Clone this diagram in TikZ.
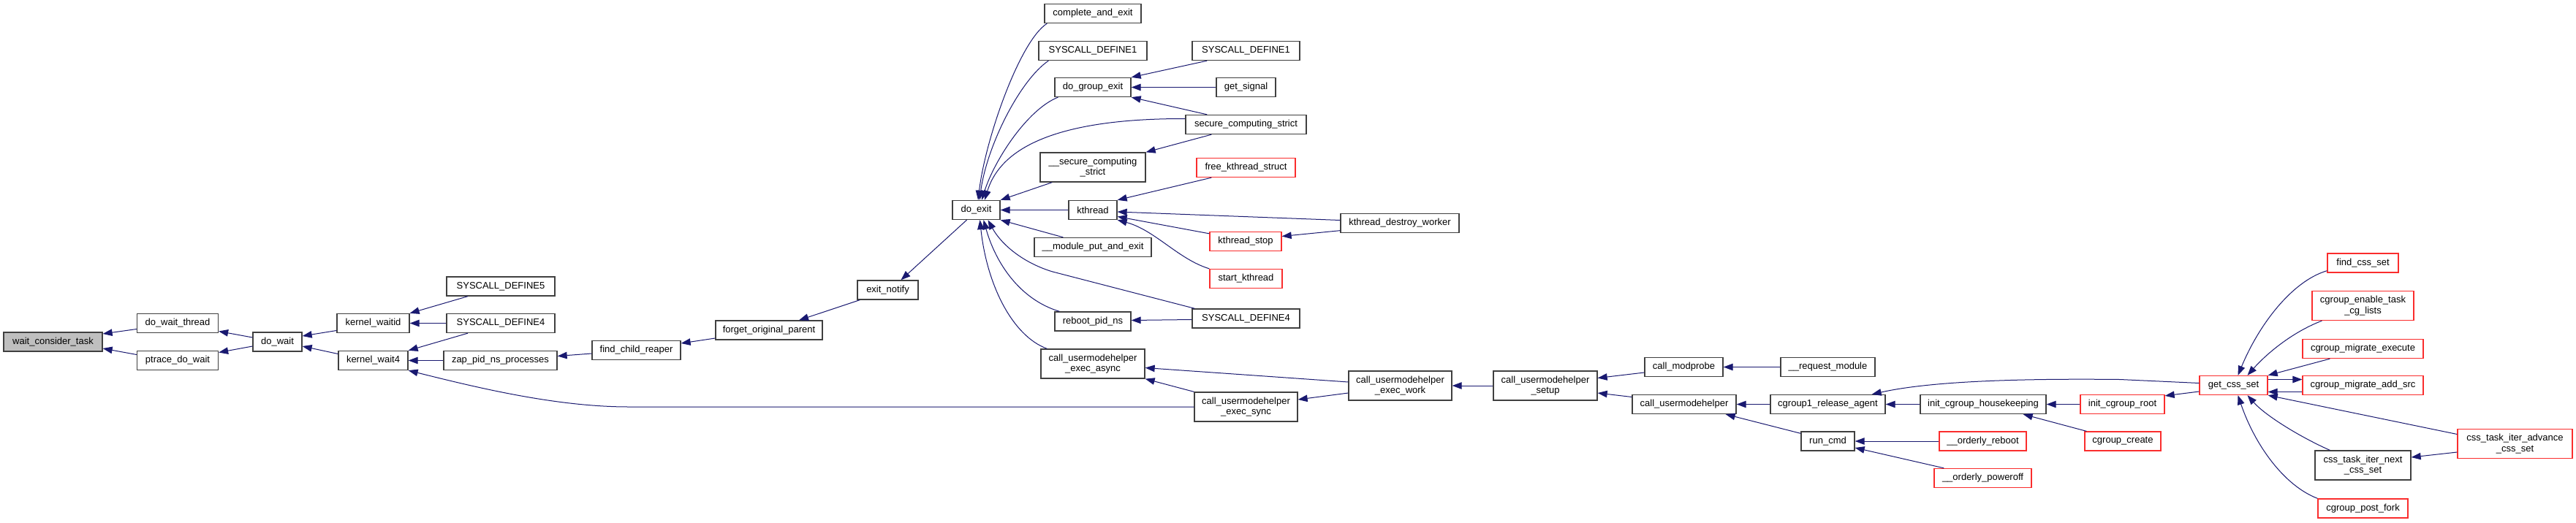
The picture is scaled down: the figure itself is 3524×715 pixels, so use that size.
\documentclass[tikz,border=0pt]{standalone}
\usepackage{fontspec}
\setmainfont{Liberation Sans}
\usetikzlibrary{arrows.meta}
\definecolor{edgeblue}{RGB}{25,25,112}
\definecolor{nodeblack}{RGB}{64,64,64}
\definecolor{nodered}{RGB}{250,45,45}
\definecolor{grayfill}{RGB}{191,191,191}
\begin{document}
\begin{tikzpicture}[x=1pt,y=-1pt, >={Triangle[length=13pt,width=9.5pt]},
 box/.style={draw=nodeblack, line width=1.3pt, fill=white, inner sep=0pt, align=center,
   font=\fontsize{13}{14.7}\selectfont, minimum height=26pt},
 redbox/.style={box, draw=nodered},
 tall/.style={minimum height=40pt},
 edge/.style={draw=edgeblue, line width=1pt, <-}]
\fill[white] (0,0) rectangle (3524,715);
\useasboundingbox (0,0) rectangle (3524,715);
% nodes
\node[box, fill=grayfill, minimum width=135pt] (wct) at (72.5,468) {wait\_consider\_task};
\node[box, minimum width=111pt] (dwt) at (243,442.5) {do\_wait\_thread};
\node[box, minimum width=111pt] (ptr) at (243,493.5) {ptrace\_do\_wait};
\node[box, minimum width=67pt] (dw) at (379.5,468) {do\_wait};
\node[box, minimum width=99pt] (kwid) at (510.5,442.5) {kernel\_waitid};
\node[box, minimum width=95pt] (kw4) at (510.5,493.5) {kernel\_wait4};
\node[box, minimum width=148pt] (sd5) at (685,392) {SYSCALL\_DEFINE5};
\node[box, minimum width=148pt] (sd4l) at (685,442.5) {SYSCALL\_DEFINE4};
\node[box, minimum width=155pt] (zap) at (684.5,493.5) {zap\_pid\_ns\_processes};
\node[box, minimum width=121pt] (fcr) at (870.5,479.5) {find\_child\_reaper};
\node[box, minimum width=146pt] (fop) at (1052,452) {forget\_original\_parent};
\node[box, minimum width=83pt] (exn) at (1214.5,397) {exit\_notify};
\node[box, minimum width=65pt] (dex) at (1335.5,287.5) {do\_exit};
\node[box, minimum width=132pt] (cae) at (1495,18.5) {complete\_and\_exit};
\node[box, minimum width=148pt] (sd1l) at (1495,69.5) {SYSCALL\_DEFINE1};
\node[box, minimum width=104pt] (dge) at (1495,119.5) {do\_group\_exit};
\node[box, tall, minimum width=144pt] (uscs) at (1495,229) {\_\_secure\_computing\\\_strict};
\node[box, minimum width=66pt] (kth) at (1495,287.5) {kthread};
\node[box, minimum width=160pt] (mpe) at (1495,338.5) {\_\_module\_put\_and\_exit};
\node[box, minimum width=104pt] (rpn) at (1495,440) {reboot\_pid\_ns};
\node[box, tall, minimum width=142pt] (uea) at (1495,498) {call\_usermodehelper\\\_exec\_async};
\node[box, minimum width=147pt] (sd1r) at (1704.5,69.5) {SYSCALL\_DEFINE1};
\node[box, minimum width=81pt] (gsig) at (1704.5,119.5) {get\_signal};
\node[box, minimum width=165pt] (scs) at (1704.5,170.5) {secure\_computing\_strict};
\node[redbox, minimum width=135pt] (fks) at (1704.5,229.5) {free\_kthread\_struct};
\node[redbox, minimum width=98pt] (kst) at (1704,330.5) {kthread\_stop};
\node[redbox, minimum width=99pt] (stk) at (1704.5,381.5) {start\_kthread};
\node[box, minimum width=147pt] (sd4r) at (1704.5,436) {SYSCALL\_DEFINE4};
\node[box, tall, minimum width=141pt] (ues) at (1704.5,557) {call\_usermodehelper\\\_exec\_sync};
\node[box, minimum width=162pt] (kdw) at (1915,305.5) {kthread\_destroy\_worker};
\node[box, tall, minimum width=141pt] (uew) at (1915.5,528) {call\_usermodehelper\\\_exec\_work};
\node[box, tall, minimum width=142pt] (ust) at (2114,528) {call\_usermodehelper\\\_setup};
\node[box, minimum width=107pt] (cmp) at (2303.5,502.5) {call\_modprobe};
\node[box, minimum width=142pt] (cuh) at (2304,553.5) {call\_usermodehelper};
\node[box, minimum width=129pt] (rqm) at (2500.5,502.5) {\_\_request\_module};
\node[box, minimum width=157pt] (cra) at (2500.5,553.5) {cgroup1\_release\_agent};
\node[box, minimum width=73pt] (rcm) at (2500.5,604) {run\_cmd};
\node[box, minimum width=172pt] (ich) at (2713,553.5) {init\_cgroup\_housekeeping};
\node[redbox, minimum width=119pt] (orb) at (2712.5,604) {\_\_orderly\_reboot};
\node[redbox, minimum width=133pt] (opf) at (2712.5,654.5) {\_\_orderly\_poweroff};
\node[redbox, minimum width=115pt] (icr) at (2903.5,553.5) {init\_cgroup\_root};
\node[redbox, minimum width=104pt] (ccr) at (2904,604) {cgroup\_create};
\node[redbox, minimum width=93pt] (gcs) at (3055.5,527.5) {get\_css\_set};
\node[redbox, minimum width=97pt] (fcs) at (3232.5,360) {find\_css\_set};
\node[redbox, tall, minimum width=139pt] (cet) at (3232.5,418.5) {cgroup\_enable\_task\\\_cg\_lists};
\node[redbox, minimum width=165pt] (cme) at (3232.5,477.5) {cgroup\_migrate\_execute};
\node[redbox, minimum width=165pt] (cma) at (3232.5,527.5) {cgroup\_migrate\_add\_src};
\node[box, tall, minimum width=131pt] (cti) at (3232.5,637) {css\_task\_iter\_next\\\_css\_set};
\node[redbox, minimum width=123pt] (cpf) at (3232.5,696) {cgroup\_post\_fork};
\node[redbox, tall, minimum width=157pt] (cta) at (3440.5,607.5) {css\_task\_iter\_advance\\\_css\_set};
% edges (arrow at callee)
\draw[edge] ([yshift=11pt]wct.east) -- ([yshift=-8pt]dwt.west);
\draw[edge] ([yshift=-9pt]wct.east) -- ([yshift=8pt]ptr.west);
\draw[edge] ([yshift=-11pt]dwt.east) -- ([yshift=6pt]dw.west);
\draw[edge] ([yshift=11pt]ptr.east) -- ([yshift=-6pt]dw.west);
\draw[edge] ([yshift=8pt]dw.east) -- ([yshift=-10pt]kwid.west);
\draw[edge] ([yshift=-6pt]dw.east) -- ([yshift=9pt]kw4.west);
\draw[edge] (kwid.north east) -- ([xshift=-45pt]sd5.south);
\draw[edge] (kwid.east) -- (sd4l.west);
\draw[edge] (kw4.north east) -- ([xshift=-45pt]sd4l.south);
\draw[edge] (kw4.east) -- (zap.west);
\draw[edge] (kw4.south east) .. controls (650,530) and (760,557) .. (860,557) -- (ues.west);
\draw[edge] ([yshift=6pt]zap.east) -- ([yshift=-4.5pt]fcr.west);
\draw[edge] ([yshift=9.5pt]fcr.east) -- ([yshift=-11pt]fop.west);
\draw[edge] ([xshift=41pt]fop.north) -- ([xshift=4pt]exn.south west);
\draw[edge] ([xshift=18pt]exn.north) -- ([xshift=-13pt]dex.south);
\draw[edge] ([xshift=2.5pt]dex.north) .. controls (1348,190) and (1395,56) .. ([xshift=4pt]cae.south west);
\draw[edge] ([xshift=4.5pt]dex.north) .. controls (1350,200) and (1395,110) .. ([xshift=14pt]sd1l.south west);
\draw[edge] ([xshift=7.5pt]dex.north) .. controls (1360,220) and (1405,150) .. ([xshift=5pt]dge.south west);
\draw[edge] ([xshift=11.5pt]dex.north) .. controls (1365,215) and (1420,162) .. ([yshift=8pt]scs.west);
\draw[edge] (dex.north east) -- ([xshift=17pt]uscs.south west);
\draw[edge] (dex.east) -- (kth.west);
\draw[edge] (dex.south east) -- ([xshift=40pt]mpe.north west);
\draw[edge] ([xshift=5pt]dex.south) .. controls (1350,390) and (1385,460) .. ([xshift=9pt]uea.north west);
\draw[edge] ([xshift=10pt]dex.south) .. controls (1362,360) and (1395,410) .. ([xshift=7pt]rpn.north west);
\draw[edge] ([xshift=16pt]dex.south) .. controls (1370,335) and (1400,360) .. (1440,372) -- ([xshift=4pt]sd4r.north west);
\draw[edge] (kth.north east) -- ([xshift=21pt]fks.south west);
\draw[edge] ([yshift=-2.5pt]kth.east) -- ([yshift=4pt]kdw.west);
\draw[edge] ([yshift=-9pt]kth.east) -- ([yshift=-3pt]kst.north west);
\draw[edge] (kth.south east) .. controls (1580,315) and (1612,355) .. (stk.north west);
\draw[edge] ([yshift=7pt]kst.east) -- ([yshift=3.5pt]kdw.south west);
\draw[edge] (dge.north east) -- ([xshift=21pt]sd1r.south west);
\draw[edge] (dge.east) -- (gsig.west);
\draw[edge] (dge.south east) -- ([xshift=30pt]scs.north west);
\draw[edge] (uscs.north east) -- ([xshift=36pt]scs.south west);
\draw[edge] ([yshift=1.5pt]rpn.east) -- ([yshift=-1.5pt]sd4r.west);
\draw[edge] ([yshift=-5.5pt]uea.east) -- ([yshift=5pt]uew.west);
\draw[edge] (uea.south east) -- (ues.north west);
\draw[edge] ([yshift=10pt]ues.east) -- ([yshift=-10pt]uew.west);
\draw[edge] (uew.east) -- (ust.west);
\draw[edge] ([yshift=10.5pt]ust.east) -- ([yshift=-7.5pt]cmp.west);
\draw[edge] ([yshift=-10pt]ust.east) -- ([yshift=10pt]cuh.west);
\draw[edge] (cmp.east) -- (rqm.west);
\draw[edge] (cuh.east) -- (cra.west);
\draw[edge] ([xshift=-15pt]cuh.south east) -- ([yshift=-3pt]rcm.north west);
\draw[edge] (cra.east) -- (ich.west);
\draw[edge] ([xshift=-19pt]cra.north east) .. controls (2640,522) and (2760,518) .. (2900,519.5) -- ([yshift=3pt]gcs.west);
\draw[edge] (ich.east) -- (icr.west);
\draw[edge] ([xshift=-32pt]ich.south east) -- ([xshift=3pt]ccr.north west);
\draw[edge] ([yshift=-2pt]icr.north east) -- ([yshift=-8.5pt]gcs.west);
\draw[edge] (rcm.east) -- (orb.west);
\draw[edge] ([yshift=-9pt]rcm.east) -- ([xshift=14pt]opf.north west);
\draw[edge] ([xshift=6pt]gcs.north) .. controls (3090,445) and (3135,385) .. ([yshift=3pt]fcs.south west);
\draw[edge] ([xshift=19pt]gcs.north) .. controls (3100,485) and (3135,455) .. ([xshift=14pt]cet.south west);
\draw[edge] (gcs.north east) -- ([xshift=38pt]cme.south west);
\draw[edge] ([yshift=-9pt]gcs.east) -- ([yshift=-9pt]cma.west);
\draw[edge] ([yshift=8pt]cma.west) -- ([yshift=8pt]gcs.east);
\draw[edge] (gcs.south east) -- ([yshift=13pt]cta.west);
\draw[edge] ([xshift=19pt]gcs.south) .. controls (3100,570) and (3150,600) .. ([xshift=21pt]cti.north west);
\draw[edge] ([xshift=6pt]gcs.south) .. controls (3085,610) and (3125,665) .. (cpf.north west);
\draw[edge] ([yshift=11pt]cti.east) -- ([yshift=-11.5pt]cta.west);
\end{tikzpicture}
\end{document}
